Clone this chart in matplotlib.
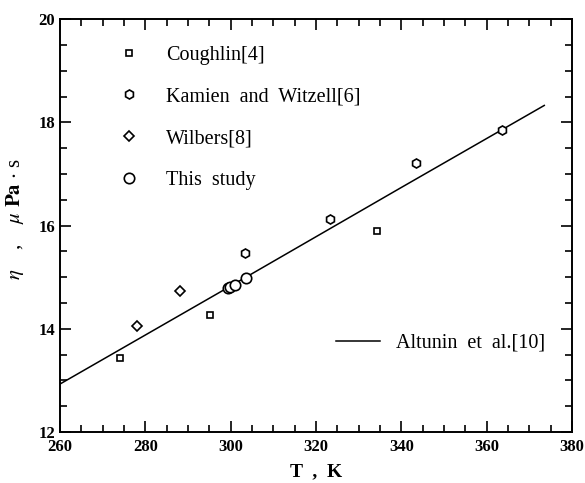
import matplotlib
matplotlib.use("Agg")
import matplotlib.pyplot as plt
from matplotlib.ticker import MultipleLocator

plt.rcParams['font.family'] = ['Liberation Serif', 'DejaVu Serif']
plt.rcParams['mathtext.fontset'] = 'stix'

# measured viscosity, T in K, eta in uPa s
coughlin_T = [274.0, 295.2, 334.4]
coughlin_eta = [13.43, 14.27, 15.90]
kamien_T = [303.4, 323.3, 343.4, 363.5]
kamien_eta = [15.47, 16.12, 17.22, 17.85]
wilbers_T = [278.0, 288.2]
wilbers_eta = [14.06, 14.73]
study_T = [299.4, 299.9, 301.0, 303.5]
study_eta = [14.79, 14.81, 14.85, 14.98]

# correlation of Altunin et al.
altunin_T = [260.0, 300.0, 340.0, 373.5]
altunin_eta = [12.93, 14.83, 16.74, 18.33]

fig = plt.figure(figsize=(5.85, 4.83), dpi=100)
ax = fig.add_axes([0.1026, 0.1056, 0.8752, 0.8545])

line_h, = ax.plot(altunin_T, altunin_eta, color='black', lw=1.1, label='Altunin  et  al.[10]')
ms = dict(linestyle='none', mfc='white', mec='black', mew=1.2, color='black')
h1, = ax.plot(coughlin_T, coughlin_eta, marker='s', ms=5, label='Coughlin[4]', **ms)
h2, = ax.plot(kamien_T, kamien_eta, marker='h', ms=6.5, label='Kamien  and  Witzell[6]', **ms)
h3, = ax.plot(wilbers_T, wilbers_eta, marker='D', ms=5, label='Wilbers[8]', **ms)
h4, = ax.plot(study_T, study_eta, marker='o', ms=7.5, label='This  study', **ms)

ax.set_xlim(260, 380)
ax.set_ylim(12, 20)
ax.xaxis.set_major_locator(MultipleLocator(20))
ax.xaxis.set_minor_locator(MultipleLocator(5))
ax.yaxis.set_major_locator(MultipleLocator(2))
ax.yaxis.set_minor_locator(MultipleLocator(0.5))
ax.tick_params(which='both', direction='in', top=True, right=True, width=1.2)
ax.tick_params(which='major', length=8)
ax.tick_params(which='minor', length=5)
ax.tick_params(axis='x', pad=5)
for lab in ax.get_xticklabels() + ax.get_yticklabels():
    lab.set_fontweight('bold')
    lab.set_fontsize(12)
for sp in ax.spines.values():
    sp.set_linewidth(1.4)

ax.set_xlabel('T  ,  K', fontsize=14, fontweight='bold', labelpad=6)
ax.set_ylabel(r'$\eta$    ,    $\mu$ $\mathbf{Pa}$ $\cdot$ s', fontsize=15)
ax.yaxis.set_label_coords(-0.066, 0.516)

leg1 = ax.legend(handles=[h1, h2, h3, h4], loc='upper left', bbox_to_anchor=(0.079, 0.98),
                 frameon=False, fontsize=14.5, labelspacing=1.12, handletextpad=1.35,
                 handlelength=1.0)
ax.add_artist(leg1)
ax.legend(handles=[line_h], loc='lower right', bbox_to_anchor=(0.983, 0.148),
          frameon=False, fontsize=14.5, handlelength=2.2, handletextpad=0.8)

fig.savefig('out.png', dpi=100)
